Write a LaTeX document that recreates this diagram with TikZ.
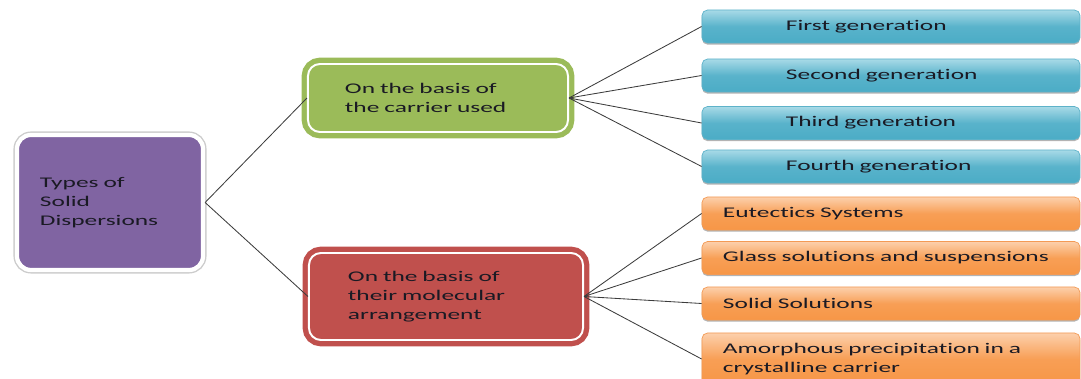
\documentclass[tikz,border=0pt]{standalone}
\usepackage{fontspec}
\setmainfont{Carlito}[FakeStretch=1.72, Ligatures=NoCommon]
\usepackage{tikz}
\usetikzlibrary{shadows}
\definecolor{sdInk}{HTML}{1A1A24}
\definecolor{sdLink}{HTML}{3C3C3C}
\definecolor{sdPurple}{HTML}{8064A2}
\definecolor{sdGreen}{HTML}{9BBB59}
\definecolor{sdRed}{HTML}{C0504D}
\definecolor{sdCyanT}{HTML}{A8DAE7}
\definecolor{sdCyan}{HTML}{4BACC6}
\definecolor{sdCyanE}{HTML}{5DB2C9}
\definecolor{sdOrangeT}{HTML}{FCD0AC}
\definecolor{sdOrange}{HTML}{F79646}
\definecolor{sdOrangeE}{HTML}{F39A55}

\begin{document}
\begin{tikzpicture}[
    x=0.025cm, y=-0.025cm,
    font=\fontsize{10.5}{13.4}\selectfont,
    text=sdInk,
    rootbox/.style={fill=sdPurple, draw=white, line width=3pt, rounded corners=0.35cm,
                    preaction={draw=black!20, line width=5pt},
                    minimum width=4.65cm, minimum height=3.375cm,
                    text width=3.5cm, inner xsep=0.575cm, align=left},
    basis/.style={fill=#1, draw=white, line width=1.4pt, rounded corners=0.3cm,
                  preaction={draw=#1, line width=9pt}, align=left},
    gen/.style={top color=sdCyanT, bottom color=sdCyan, middle color=sdCyan!85!sdCyanT,
                draw=sdCyanE, line width=0.5pt, rounded corners=4pt,
                drop shadow={shadow xshift=0pt, shadow yshift=-1.2pt, fill=black!50, opacity=.6},
                minimum width=9.45cm, minimum height=0.825cm,
                text width=5.25cm, inner xsep=2.1cm, align=left},
    arrange/.style={top color=sdOrangeT, bottom color=sdOrange, middle color=sdOrange!85!sdOrangeT,
                    draw=sdOrangeE, line width=0.5pt, rounded corners=4pt,
                    drop shadow={shadow xshift=0pt, shadow yshift=-1.2pt, fill=black!50, opacity=.6},
                    minimum width=9.45cm, minimum height=0.825cm,
                    text width=8.4cm, inner xsep=0.525cm, align=left},
    link/.style={draw=sdLink, line width=0.6pt},
]
\useasboundingbox (0,0) rectangle (1081,379);
\clip (0,0) rectangle (1081,379);

% ---- Root ----
\node[rootbox] (types) at (110,202.5) {Types of\\Solid\\Dispersions};

% ---- Two bases of classification ----
\node[basis=sdGreen, minimum width=6.5cm, minimum height=1.7cm,
      text width=4.65cm, inner xsep=0.925cm] (carrier) at (438,98)
  {On the basis of\\the carrier used};
\node[basis=sdRed, minimum width=6.85cm, minimum height=2.175cm,
      text width=4.9cm, inner xsep=0.975cm] (molec) at (446,296.5)
  {On the basis of\\their molecular\\arrangement};

% ---- Generations ----
\node[gen] (first)  at (891,26.5)  {First generation};
\node[gen] (second) at (891,75.5)  {Second generation};
\node[gen] (third)  at (891,123)   {Third generation};
\node[gen] (fourth) at (891,166.5) {Fourth generation};

% ---- Molecular arrangements ----
\node[arrange] (eutect) at (891,213.5) {Eutectics Systems};
\node[arrange] (glass)  at (891,258)   {Glass solutions and suspensions};
\node[arrange] (solsol) at (891,303.5) {Solid Solutions};
\node[arrange, minimum height=1.3cm] (amorph) at (891,359)
  {Amorphous precipitation in a\\crystalline carrier};

% ---- Connectors ----
\draw[link] (types.east) -- (carrier.west);
\draw[link] (types.east) -- (molec.west);
\foreach \g in {first, second, third, fourth}
  \draw[link] (carrier.east) -- (\g.west);
\foreach \m in {eutect, glass, solsol, amorph}
  \draw[link] (molec.east) -- (\m.west);

\end{tikzpicture}
\end{document}
